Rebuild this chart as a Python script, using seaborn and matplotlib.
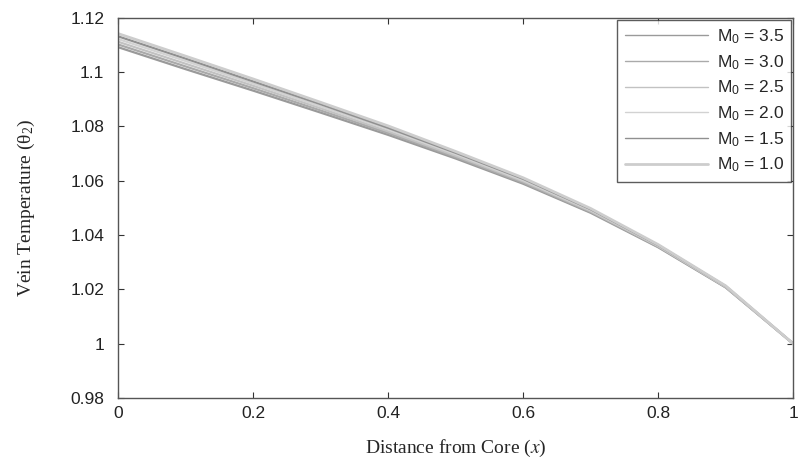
import numpy as np
import pandas as pd
import matplotlib
matplotlib.use('Agg')
import matplotlib.pyplot as plt
import seaborn as sns

# Data
x_vals = [0.0, 0.1, 0.2, 0.3, 0.4, 0.5, 0.6, 0.7, 0.8, 0.9, 1.0]
m0_labels = ['3.5', '3.0', '2.5', '2.0', '1.5', '1.0']

theta_35 = [1.1092, 1.1011, 1.0932, 1.0851, 1.0769, 1.0682, 1.0589, 1.0482, 1.0355, 1.0207, 1.0]
theta_30 = [1.1102, 1.1021, 1.0941, 1.0859, 1.0776, 1.0687, 1.0593, 1.0485, 1.0357, 1.0208, 1.0]
theta_25 = [1.1112, 1.1031, 1.0950, 1.0867, 1.0782, 1.0692, 1.0598, 1.0488, 1.0359, 1.0209, 1.0]
theta_20 = [1.1122, 1.1041, 1.0958, 1.0874, 1.0789, 1.0698, 1.0602, 1.0492, 1.0361, 1.0211, 1.0]
theta_15 = [1.1132, 1.1050, 1.0966, 1.0882, 1.0795, 1.0703, 1.0607, 1.0495, 1.0363, 1.0212, 1.0]
theta_10 = [1.1142, 1.1059, 1.0975, 1.0889, 1.0802, 1.0708, 1.0611, 1.0498, 1.0365, 1.0213, 1.0]

series = [theta_35, theta_30, theta_25, theta_20, theta_15, theta_10]

rows = []
for lab, vals in zip(m0_labels, series):
    for xv, yv in zip(x_vals, vals):
        rows.append({'x': xv, 'theta': yv, 'M0': r'M$\mathregular{_0}$ = ' + lab})
df = pd.DataFrame(rows)

hue_order = [r'M$\mathregular{_0}$ = ' + l for l in m0_labels]
colors = ['#9a9a9a', '#aaaaaa', '#c2c2c2', '#d2d2d2', '#909090', '#cdcdcd']
palette = dict(zip(hue_order, colors))

sns.set_style('ticks')
plt.rcParams['font.family'] = ['Liberation Sans', 'DejaVu Sans']
plt.rcParams['mathtext.fontset'] = 'stix'

fig = plt.figure(figsize=(7.98, 4.58), dpi=100)
ax = fig.add_axes([0.148, 0.131, 0.846, 0.830])

sns.lineplot(data=df, x='x', y='theta', hue='M0', hue_order=hue_order,
             palette=palette, linewidth=1.6, ax=ax, estimator=None, sort=False)
# the M0 = 1.0 line is drawn a bit heavier in the original
ax.get_lines()[5].set_linewidth(2.0)

ax.set_xlim(0, 1)
ax.set_ylim(0.98, 1.12)
ax.set_xticks([0, 0.2, 0.4, 0.6, 0.8, 1.0])
ax.set_xticklabels(['0', '0.2', '0.4', '0.6', '0.8', '1'])
ax.set_yticks([0.98, 1.0, 1.02, 1.04, 1.06, 1.08, 1.1, 1.12])
ax.set_yticklabels(['0.98', '1', '1.02', '1.04', '1.06', '1.08', '1.1', '1.12'])
ax.tick_params(direction='in', length=4, width=0.8, labelsize=12.5,
               top=True, right=True, colors='#333333', labelcolor='#222222')
ax.tick_params(axis='x', pad=6)
ax.tick_params(axis='y', pad=10)
for sp in ax.spines.values():
    sp.set_visible(True)
    sp.set_color('#555555')
    sp.set_linewidth(1.0)

ax.set_xlabel('Distance from Core ($x$)', fontsize=14, family='Liberation Serif', labelpad=12)
ax.set_ylabel(r'Vein Temperature (θ$\mathregular{_2}$)', fontsize=14,
              family='Liberation Serif', labelpad=24)

leg = ax.legend(loc='upper right', fontsize=12.5, frameon=True, fancybox=False,
                edgecolor='#333333', borderaxespad=0.1, handlelength=4.8,
                labelspacing=0.4, handletextpad=0.5, borderpad=0.45)
leg.set_title(None)
leg.get_frame().set_linewidth(1.0)
for h in leg.get_lines():
    h.set_linewidth(1.0)
leg.get_lines()[5].set_linewidth(2.0)

plt.savefig('out.png', dpi=100)
plt.close()
